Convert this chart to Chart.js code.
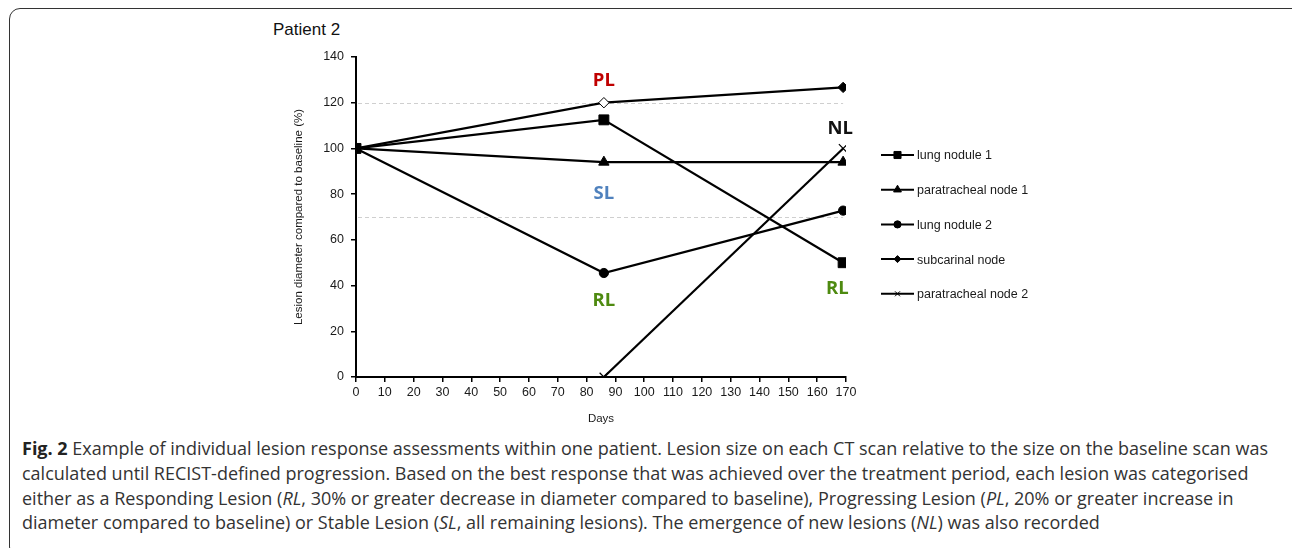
<!DOCTYPE html>
<html>
<head>
<meta charset="utf-8">
<script src="https://cdn.jsdelivr.net/npm/chart.js@4.4.1/dist/chart.umd.min.js"></script>
<style>
  html, body { margin: 0; padding: 0; background: #fff; }
  body { width: 1292px; height: 548px; position: relative; overflow: hidden; }
  #frame {
    position: absolute; left: 9px; top: 8px; width: 1298px; height: 550px;
    border: 1.5px solid #333; border-radius: 11px; box-sizing: border-box;
  }
  #chartBox { position: absolute; left: 0; top: 0; width: 1292px; height: 430px; }
  #patient {
    position: absolute; left: 273px; top: 20px;
    font: 17px "Liberation Sans", Arial, sans-serif; color: #111;
  }
  #caption {
    position: absolute; left: 22px; top: 436px; width: 1265px;
    font: 18px "Liberation Sans Narrow", "Open Sans", sans-serif;
    line-height: 24.8px; color: #333; white-space: nowrap;
  }
  #caption b { color: #222; }
</style>
</head>
<body>
<div id="frame"></div>
<div id="patient">Patient 2</div>
<div id="chartBox"><canvas id="chart"></canvas></div>
<div id="caption">
<b>Fig. 2</b> Example of individual lesion response assessments within one patient. Lesion size on each CT scan relative to the size on the baseline scan was<br>
calculated until RECIST-defined progression. Based on the best response that was achieved over the treatment period, each lesion was categorised<br>
either as a Responding Lesion (<i>RL</i>, 30% or greater decrease in diameter compared to baseline), Progressing Lesion (<i>PL</i>, 20% or greater increase in<br>
diameter compared to baseline) or Stable Lesion (<i>SL</i>, all remaining lesions). The emergence of new lesions (<i>NL</i>) was also recorded
</div>
<script>
const scanDays = [0, 86, 169]
const newLesionDays = [86, 169]

const lungNodule1 = [100, 112.5, 50]
const paratrachealNode1 = [100, 94, 94]
const lungNodule2 = [100, 45.5, 72.8]
const subcarinalNode = [100, 120, 126.7]
const paratrachealNode2 = [0, 100]

const seriesNames = ['lung nodule 1', 'paratracheal node 1', 'lung nodule 2', 'subcarinal node', 'paratracheal node 2']
const yTicks = [0, 20, 40, 60, 80, 100, 120, 140]
const thresholdLines = [120, 70]

// category labels placed on the chart: [text, day, value, colour]
const labels = [
  ['PL', 86, 129.8, '#c00000'],
  ['SL', 86, 80.3, '#4f81bd'],
  ['RL', 86, 33.2, '#4e8a10'],
  ['RL', 167, 38.5, '#4e8a10'],
  ['NL', 168, 108.6, '#111111'],
]

const font = '"Liberation Sans", Arial, sans-serif'

function toPoints(days, values) {
  return values.map((v, i) => ({ x: days[i], y: v }))
}

function series(name, days, values, style, radius, fill) {
  return {
    label: name,
    data: toPoints(days, values),
    borderColor: '#000',
    borderWidth: 2.2,
    pointStyle: style,
    pointRadius: radius,
    pointBorderColor: '#000',
    pointBorderWidth: style === 'crossRot' ? 1.2 : 1,
    pointBackgroundColor: fill || '#000',
    tension: 0,
  }
}

const datasets = [
  series(seriesNames[0], scanDays, lungNodule1, 'rect', 7),
  series(seriesNames[1], scanDays, paratrachealNode1, 'triangle', 6),
  series(seriesNames[2], scanDays, lungNodule2, 'circle', 4.6),
  series(seriesNames[3], scanDays, subcarinalNode, 'rectRot', 5.2, ['#000', '#fff', '#000']),
  series(seriesNames[4], newLesionDays, paratrachealNode2, 'crossRot', 6),
]

const thresholdPlugin = {
  id: 'thresholds',
  beforeDatasetsDraw(chart) {
    const { ctx, scales } = chart
    ctx.save()
    ctx.strokeStyle = '#cfcfcf'
    ctx.lineWidth = 1
    ctx.setLineDash([4, 3])
    thresholdLines.forEach((v) => {
      const y = Math.round(scales.y.getPixelForValue(v)) + 0.5
      ctx.beginPath()
      ctx.moveTo(scales.x.getPixelForValue(0) + 2, y)
      ctx.lineTo(scales.x.getPixelForValue(169), y)
      ctx.stroke()
    })
    ctx.restore()
  },
}

const labelPlugin = {
  id: 'categoryLabels',
  afterDatasetsDraw(chart) {
    const { ctx, scales } = chart
    ctx.save()
    ctx.font = 'bold 18.5px "Open Sans", sans-serif'
    ctx.textAlign = 'center'
    ctx.textBaseline = 'middle'
    labels.forEach(([text, day, value, colour]) => {
      ctx.fillStyle = colour
      ctx.fillText(text, scales.x.getPixelForValue(day), scales.y.getPixelForValue(value))
    })
    ctx.restore()
  },
}

// legend with line + marker like the original figure
const legendPlugin = {
  id: 'lineLegend',
  afterDraw(chart) {
    const { ctx, chartArea } = chart
    const left = chartArea.right + 35
    const top = 155
    const gap = 34.7
    const sizes = [5, 4.5, 3.6, 3.5, 3.5]
    ctx.save()
    chart.data.datasets.forEach((ds, i) => {
      const y = top + i * gap
      ctx.strokeStyle = '#000'
      ctx.lineWidth = 2
      ctx.beginPath()
      ctx.moveTo(left, y)
      ctx.lineTo(left + 33, y)
      ctx.stroke()
      ctx.fillStyle = '#000'
      ctx.lineWidth = 1
      Chart.helpers.drawPoint(ctx, { pointStyle: ds.pointStyle, radius: sizes[i], borderWidth: 1 }, left + 16.5, y)
      ctx.fillStyle = '#1a1a1a'
      ctx.font = '12.5px ' + font
      ctx.textAlign = 'left'
      ctx.textBaseline = 'middle'
      ctx.fillText(ds.label, left + 36, y + 1)
    })
    ctx.restore()
  },
}

new Chart(document.getElementById('chart'), {
  type: 'line',
  data: { datasets },
  options: {
    responsive: true,
    maintainAspectRatio: false,
    animation: false,
    layout: { padding: { left: 288, top: 57, right: 446, bottom: 0 } },
    plugins: {
      legend: { display: false },
      tooltip: { enabled: false },
    },
    scales: {
      x: {
        type: 'linear',
        min: 0,
        max: 170,
        ticks: { stepSize: 10, color: '#1a1a1a', font: { family: font, size: 12.5 }, padding: 3, maxRotation: 0 },
        grid: { drawOnChartArea: false, drawTicks: true, tickLength: 5, color: '#000', lineWidth: 1.5 },
        border: { color: '#000', width: 2 },
        title: { display: true, text: 'Days', color: '#1a1a1a', font: { family: font, size: 11.5 }, padding: { top: 1 } },
        afterFit(s) { s.height = 53 },
      },
      y: {
        min: 0,
        max: 140,
        afterBuildTicks(s) { s.ticks = yTicks.map((v) => ({ value: v })) },
        ticks: { color: '#1a1a1a', font: { family: font, size: 12.5 }, padding: 7 },
        grid: { drawOnChartArea: false, drawTicks: true, tickLength: 5, color: '#000', lineWidth: 1.5 },
        border: { color: '#000', width: 2 },
        title: { display: true, text: 'Lesion diameter compared to baseline (%)', color: '#1a1a1a', font: { family: font, size: 11.5 }, padding: { top: 4, bottom: 0 } },
        afterFit(s) { s.width = 68 },
      },
    },
  },
  plugins: [thresholdPlugin, labelPlugin, legendPlugin],
})
</script>
</body>
</html>
